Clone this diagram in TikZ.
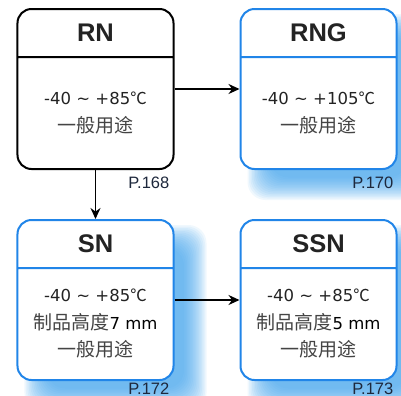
\documentclass[tikz,border=0pt]{standalone}
\usepackage{fontspec}
\setmainfont{Liberation Sans}
\newfontfamily\cjk{Noto Sans CJK SC}
\newfontfamily\bodylatin{DejaVu Sans}
\usetikzlibrary{arrows.meta,positioning,shapes.multipart,backgrounds}

\definecolor{boxblue}{RGB}{33,133,232}
\definecolor{shadowblue}{RGB}{60,160,235}
\definecolor{labelgray}{RGB}{30,40,60}
\definecolor{textgray}{RGB}{35,35,35}

\newcommand\titlefont{\fontsize{25.5bp}{30bp}\selectfont\bfseries}
\newcommand\bodyfont{\fontsize{16.5bp}{27.5bp}\selectfont\bodylatin}
\newcommand\zh[1]{{\cjk\fontsize{19bp}{27.5bp}\selectfont\color{textgray!85} #1}}
\newcommand\degc{{\cjk ℃}}
\newcommand\boxhead[1]{\parbox[c][46bp][c]{156bp}{\centering\titlefont #1}}
\newcommand\boxbody[1]{\parbox[c][110bp][c]{156bp}{\centering\bodyfont #1}}
% soft blue shadow behind a box
\newcommand\boxshadow[1]{%
  \foreach \k in {0,...,15}
    \fill[shadowblue, fill opacity=0.08, rounded corners=18bp]
      ([xshift={8bp+\k*1.5bp}, yshift={-6bp-\k*1.5bp}]#1.north west) rectangle
      ([xshift={32bp-\k*1.5bp}, yshift={-30bp+\k*1.5bp}]#1.south east);}

\begin{document}
\begin{tikzpicture}[x=1bp,y=-1bp,node distance=65bp,
  part box/.style={rectangle split,rectangle split parts=2,draw,line width=2bp,
    rounded corners=14bp,fill=white,inner sep=0pt,text=textgray},
  blue box/.style={part box,draw=boxblue},
  black box/.style={part box,draw=black},
  page label/.style={font=\fontsize{16.5bp}{19bp}\selectfont,text=labelgray,
    anchor=north east,inner sep=0pt},
  link/.style={-{Stealth[length=11bp,width=10bp]},line width=1.5bp}]
  \useasboundingbox (0,0) rectangle (401,396);

  \node[black box] (RN) at (95.5,89)
    {\boxhead{RN}\nodepart{two}\boxbody{-40 \textasciitilde{} +85\degc\\ \zh{一般用途}}};
  \node[blue box] (RNG) [right=of RN]
    {\boxhead{RNG}\nodepart{two}\boxbody{-40 \textasciitilde{} +105\degc\\ \zh{一般用途}}};
  \node[blue box] (SN) [below=49bp of RN]
    {\boxhead{SN}\nodepart{two}\boxbody{-40 \textasciitilde{} +85\degc\\ \zh{制品高度}7 mm\\ \zh{一般用途}}};
  \node[blue box] (SSN) [right=of SN]
    {\boxhead{SSN}\nodepart{two}\boxbody{-40 \textasciitilde{} +85\degc\\ \zh{制品高度}5 mm\\ \zh{一般用途}}};

  \begin{scope}[on background layer]
    \boxshadow{RNG}
    \boxshadow{SN}
    \boxshadow{SSN}
  \end{scope}

  \node[page label] (p168) at ([xshift=-5bp,yshift=-7bp]RN.south east) {P.168};
  \node[page label] (p170) at ([xshift=-4bp,yshift=-7bp]RNG.south east) {P.170};
  \node[page label] (p172) at ([xshift=-5bp,yshift=-1.5bp]SN.south east) {P.172};
  \node[page label] (p173) at ([xshift=-4bp,yshift=-1.5bp]SSN.south east) {P.173};

  \draw[link] (RN) -- (RNG);
  \draw[link] (RN) -- (SN);
  \draw[link] (SN) -- (SSN);
\end{tikzpicture}
\end{document}
